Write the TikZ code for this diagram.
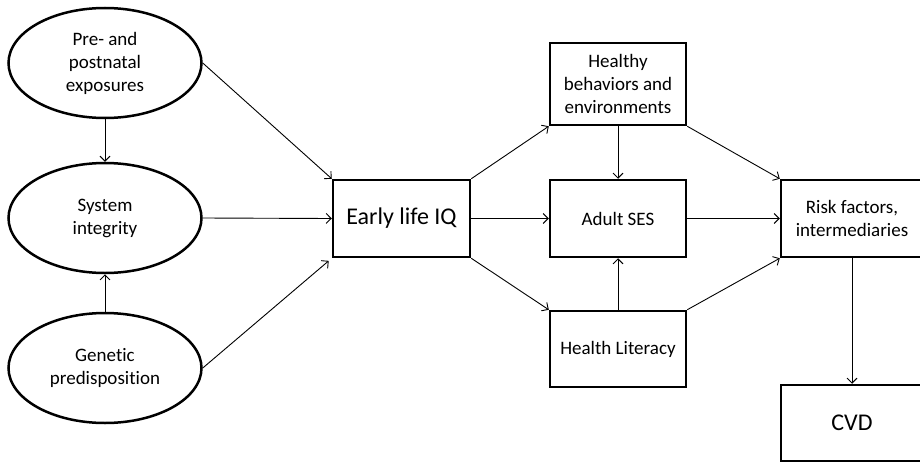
\documentclass[tikz,border=0pt]{standalone}
\usepackage{fontspec}
\setmainfont[Ligatures=NoCommon]{Carlito}
\usetikzlibrary{shapes.geometric,arrows.meta}
\begin{document}
\begin{tikzpicture}[x=1pt,y=-1pt,
  oval/.style={draw,ellipse,line width=2.5pt,minimum width=193pt,minimum height=110pt,inner sep=0pt,align=center,font=\fontsize{19}{23}\selectfont},
  box/.style={draw,rectangle,line width=2.5pt,inner sep=0pt,align=center,font=\fontsize{19}{23}\selectfont},
  bigbox/.style={box,font=\fontsize{24}{28}\selectfont},
  arr/.style={-{Straight Barb[length=5pt,width=10pt]},line width=0.9pt}]
\useasboundingbox (0,0) rectangle (920,463);
\clip (0,0) rectangle (920,463);
\node[oval] (pre) at (105,63) {Pre- and\\postnatal\\exposures};
\node[oval] (sys) at (105,218) {System\\integrity};
\node[oval] (gen) at (105,368) {Genetic\\predisposition};
\node[bigbox,minimum width=137pt,minimum height=77pt] (iq) at (401.5,218.5) {Early life IQ};
\node[box,minimum width=136pt,minimum height=82pt] (hb) at (618,84) {Healthy\\behaviors and\\environments};
\node[box,minimum width=136pt,minimum height=77pt] (ses) at (618,218.5) {Adult SES};
\node[box,minimum width=136pt,minimum height=76pt] (hl) at (618,349) {Health Literacy};
\node[box,minimum width=142pt,minimum height=77pt] (risk) at (852,218.5) {Risk factors,\\intermediaries};
\node[bigbox,minimum width=142pt,minimum height=76pt] (cvd) at (852,423) {CVD};
\draw[arr] (pre.east) -- (iq.north west);
\draw[arr] (sys.east) -- (iq.west);
\draw[arr,shorten >=4pt] (gen.east) -- (iq.south west);
\draw[arr] (pre.south) -- (sys.north);
\draw[arr] (gen.north) -- (sys.south);
\draw[arr] (iq.north east) -- (hb.south west);
\draw[arr] (iq.east) -- (ses.west);
\draw[arr] (iq.south east) -- (hl.north west);
\draw[arr] (hb.south) -- (ses.north);
\draw[arr] (hl.north) -- (ses.south);
\draw[arr] (hb.south east) -- (risk.north west);
\draw[arr] (ses.east) -- (risk.west);
\draw[arr] (hl.north east) -- (risk.south west);
\draw[arr] (risk.south) -- (cvd.north);
\end{tikzpicture}
\end{document}
